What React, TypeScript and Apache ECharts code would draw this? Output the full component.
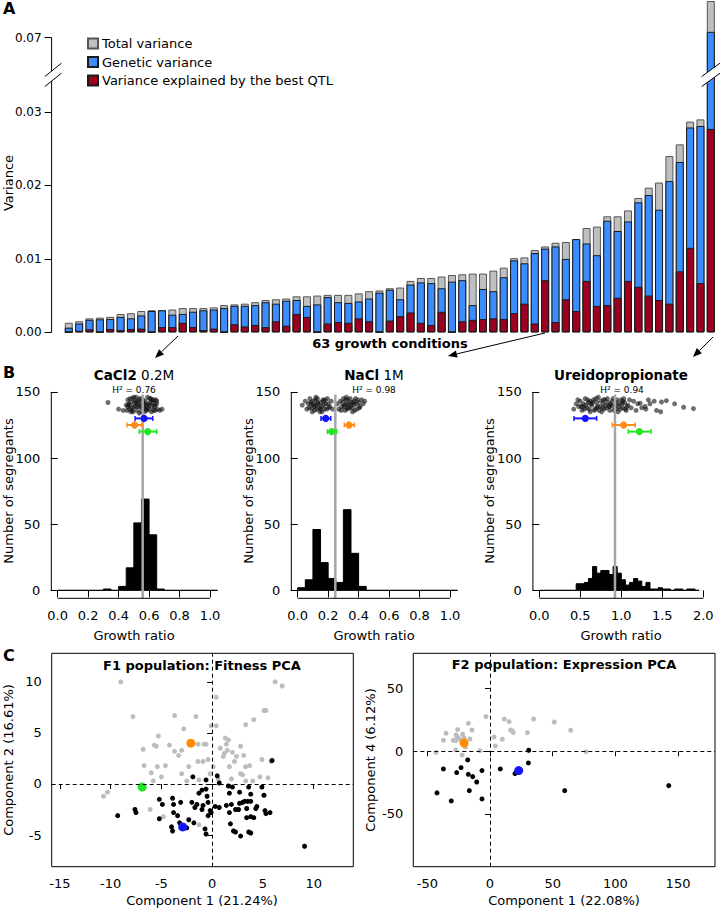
import React, { useEffect, useRef } from "react";
import * as echarts from "echarts";

const FONT = "DejaVu Sans, Liberation Sans, sans-serif";

// ---------------- Panel A: variance per growth condition ----------------
const conditionLabels = Array.from({ length: 63 }, (_, i) => `Condition ${i + 1}`);
const totalVariance = [
  0.0013, 0.0015, 0.0019, 0.002, 0.0021, 0.0025, 0.0026, 0.0029, 0.003, 0.003,
  0.0031, 0.0033, 0.0033, 0.0033, 0.0034, 0.0037, 0.0038, 0.0039, 0.0041, 0.0044,
  0.0045, 0.0046, 0.0049, 0.0049, 0.005, 0.0051, 0.0051, 0.0051, 0.0053, 0.0056,
  0.0057, 0.006, 0.0061, 0.007, 0.0074, 0.0074, 0.0076, 0.0078, 0.0079, 0.008,
  0.008, 0.0084, 0.0088, 0.0101, 0.0102, 0.0112, 0.0117, 0.0122, 0.0123, 0.0127,
  0.0142, 0.0144, 0.0158, 0.0158, 0.0166, 0.0183, 0.0197, 0.0204, 0.024, 0.0256,
  0.0287, 0.029, 0.075,
];
const geneticVariance = [
  0.00063, 0.0012, 0.0017, 0.00177, 0.0018, 0.0021, 0.0019, 0.0023, 0.0029, 0.003,
  0.0024, 0.0025, 0.0028, 0.003, 0.0031, 0.0033, 0.0036, 0.0036, 0.0037, 0.0041,
  0.0039, 0.0043, 0.0044, 0.0036, 0.0038, 0.0048, 0.0041, 0.004, 0.0042, 0.0046,
  0.0054, 0.0058, 0.0045, 0.0065, 0.0068, 0.0067, 0.006, 0.0069, 0.0071, 0.0037,
  0.0059, 0.0056, 0.0075, 0.0098, 0.0094, 0.0108, 0.0114, 0.0117, 0.01, 0.0127,
  0.0121, 0.0105, 0.0152, 0.0138, 0.0151, 0.0177, 0.0187, 0.0167, 0.0206, 0.0232,
  0.0279, 0.0281, 0.0708,
];
const qtlVariance = [
  0, 0.0002, 0.0004, 0, 0.00045, 0.0003, 0.00045, 0.0005, 0, 0.0007,
  0.0007, 0.0013, 0.0007, 0.0003, 0.0005, 0, 0.0011, 0.0008, 0.001, 0.0007,
  0.0015, 0.0009, 0.0025, 0.0021, 0, 0.0012, 0.0014, 0.0013, 0.0019, 0.0015,
  0, 0.0016, 0.0022, 0.0027, 0.0013, 0.001, 0.0028, 0, 0.0015, 0.0017,
  0.0018, 0.0019, 0.0018, 0.0026, 0.0039, 0.0012, 0.0071, 0.0014, 0.0045, 0.0029,
  0.007, 0.0036, 0.0037, 0.0047, 0.007, 0.0062, 0.005, 0.0044, 0.0039, 0.0083,
  0.0115, 0.0067, 0.0277,
];
const varianceTicks = [0, 0.01, 0.02, 0.03, 0.07];
const varianceBreak = [0.0345, 0.0655];

// ---------------- Panel B: histograms ----------------
const binWidth = 0.05;
const cacl2Counts = [0, 0, 0, 0, 0, 0, 1, 0, 3, 17, 51, 69, 42, 1, 0, 0, 0, 0, 0, 0, 0];
const naclCounts = [2, 8, 46, 21, 9, 6, 61, 28, 3, 0, 0, 0, 0, 0, 0, 0, 0, 0, 0, 0, 0];
const ureidoCounts = [
  0, 0, 0, 0, 0, 0, 0, 0, 0, 5, 5, 6, 9, 18, 13, 15, 15, 12, 18, 13,
  8, 4, 6, 9, 7, 3, 6, 1, 1, 2, 1, 1, 0, 1, 1, 0, 1, 1, 0,
];
const cacl2Median = 0.558;
const naclMedian = 0.247;
const ureidoMedian = 0.923;
const cacl2H2 = "0.76";
const naclH2 = "0.98";
const ureidoH2 = "0.94";
// [low, high, mean, y] for blue, orange, green parents
const errColors = ["#1414ff", "#ff8c1a", "#22e622"];
const cacl2Err = [[0.508, 0.624, 0.567, 130], [0.455, 0.555, 0.505, 125], [0.536, 0.65, 0.591, 120]];
const naclErr = [[0.153, 0.217, 0.184, 130], [0.306, 0.372, 0.337, 125], [0.195, 0.256, 0.223, 120]];
const ureidoErr = [[0.423, 0.699, 0.561, 130], [0.89, 1.17, 1.028, 125], [1.085, 1.362, 1.22, 120]];

const cacl2Dots = [
  [0.33, 142], [0.40, 137], [0.43, 136], [0.67, 136], [0.685, 137],
  [0.45, 140], [0.46, 144], [0.47, 137], [0.48, 142], [0.49, 145], [0.50, 139], [0.51, 143], [0.52, 136],
  [0.53, 141], [0.54, 145], [0.55, 138], [0.56, 143], [0.57, 135], [0.58, 140], [0.59, 146], [0.60, 137],
  [0.61, 142], [0.62, 139], [0.63, 144], [0.64, 136], [0.65, 141],
  [0.455, 136], [0.465, 141], [0.475, 145], [0.485, 138], [0.495, 135], [0.505, 142], [0.515, 146],
  [0.525, 139], [0.535, 134], [0.545, 142], [0.555, 145], [0.565, 138], [0.575, 143], [0.585, 136],
  [0.595, 141], [0.605, 145], [0.615, 135], [0.625, 142], [0.635, 139], [0.645, 144], [0.655, 137],
  [0.47, 140], [0.49, 136], [0.51, 139], [0.53, 144], [0.55, 135], [0.57, 141], [0.59, 138], [0.61, 145],
  [0.63, 136], [0.65, 143], [0.46, 139], [0.50, 146], [0.54, 139], [0.58, 137], [0.62, 144], [0.52, 142],
  [0.56, 140], [0.60, 140], [0.48, 135], [0.64, 140],
];
const naclDots = [
  [0.03, 140], [0.05, 143], [0.06, 137], [0.07, 141], [0.08, 145], [0.09, 138], [0.10, 143], [0.11, 136],
  [0.12, 140], [0.13, 145], [0.14, 138], [0.15, 142], [0.16, 135], [0.17, 140], [0.18, 144], [0.19, 137],
  [0.20, 141], [0.21, 139], [0.22, 143], [0.23, 137],
  [0.075, 138], [0.085, 142], [0.095, 135], [0.105, 140], [0.115, 144], [0.125, 137], [0.135, 141],
  [0.145, 135], [0.155, 139], [0.165, 144], [0.175, 137], [0.185, 141], [0.195, 145], [0.205, 138],
  [0.09, 141], [0.11, 139], [0.13, 142], [0.15, 137], [0.17, 143], [0.12, 146],
  [0.26, 141], [0.27, 137], [0.28, 143], [0.29, 139], [0.30, 145], [0.31, 136], [0.32, 141], [0.33, 144],
  [0.34, 138], [0.35, 142], [0.36, 135], [0.37, 140], [0.38, 145], [0.39, 137], [0.40, 142], [0.41, 139],
  [0.42, 144], [0.43, 141], [0.44, 143],
  [0.285, 136], [0.295, 142], [0.305, 139], [0.315, 144], [0.325, 137], [0.335, 141], [0.345, 145],
  [0.355, 138], [0.365, 142], [0.375, 136], [0.385, 141], [0.395, 144], [0.405, 138],
  [0.31, 140], [0.33, 138], [0.35, 140], [0.37, 143], [0.32, 146],
];
const ureidoDots = [
  [0.42, 137], [0.45, 141], [0.48, 139], [0.50, 143], [0.52, 136], [0.54, 141], [0.56, 145], [0.58, 138],
  [0.60, 142], [0.62, 135], [0.64, 140], [0.66, 144], [0.68, 137], [0.70, 142], [0.72, 146], [0.74, 139],
  [0.76, 135], [0.78, 141], [0.80, 144], [0.82, 138], [0.84, 142], [0.86, 136], [0.88, 140], [0.90, 145],
  [0.92, 138], [0.94, 142], [0.96, 135], [0.98, 141], [1.00, 144], [1.02, 138], [1.04, 142], [1.06, 136],
  [1.08, 140], [1.10, 144],
  [0.47, 144], [0.51, 139], [0.55, 137], [0.59, 144], [0.63, 141], [0.67, 136], [0.71, 139], [0.75, 143],
  [0.79, 137], [0.83, 145], [0.87, 141], [0.91, 136], [0.95, 144], [0.99, 137], [1.03, 145], [1.07, 139],
  [0.57, 140], [0.61, 137], [0.65, 142], [0.69, 145], [0.73, 136], [0.77, 138], [0.81, 140], [0.85, 139],
  [0.89, 143], [0.93, 140], [0.97, 139], [1.01, 141], [1.05, 137],
  [0.53, 139], [0.62, 143], [0.70, 138], [0.78, 144], [0.86, 139], [0.94, 137], [1.02, 143],
  [1.12, 138], [1.15, 143], [1.18, 136], [1.20, 141], [1.23, 141.5], [1.25, 138], [1.29, 139], [1.30, 137],
  [1.33, 144], [1.35, 141], [1.40, 143], [1.43, 136], [1.48, 135], [1.49, 142.4], [1.55, 143.4],
  [1.65, 141], [1.76, 138.4], [1.88, 137.4],
];

// ---------------- Panel C: PCA ----------------
const f1Gray = [
  [-9.0, 10.0], [-7.8, 6.6], [-3.7, 6.7], [-1.6, 6.6], [-2.8, 5.4], [-5.3, 4.7], [-5.7, 3.8], [-5.5, 3.7],
  [-6.8, 3.4], [-4.2, 3.8], [-3.7, 3.2], [-3.3, 2.8], [-6.7, 1.8], [-5.4, 1.7], [-4.6, 1.8], [-5.0, 0.7],
  [-6.0, 1.1], [-5.8, 0.3], [-3.0, 1.0], [-2.3, 1.7], [-1.4, 2.2], [-0.9, 2.2], [-0.8, 3.9], [-0.4, 2.4],
  [-0.1, 5.7], [0.4, 5.7], [0.4, 8.5], [-0.2, 1.0], [0.1, 1.7], [0.8, 3.5], [1.3, 4.5], [1.4, 3.9],
  [1.6, 4.3], [1.5, 3.3], [1.1, 2.7], [2.0, 3.1], [1.7, 1.7], [2.4, 2.7], [2.8, 3.7], [3.1, 2.8],
  [3.3, 1.7], [2.8, 1.0], [3.0, 0.9], [3.3, 5.8], [4.1, 6.3], [4.9, 2.4], [5.1, 7.2], [5.3, 7.2],
  [3.7, 1.8], [4.7, 0.7], [5.5, 0.6], [5.8, 2.2], [6.2, 10.0], [6.9, 9.6], [4.0, 0.3], [1.9, 0.5],
  [0.6, 0.5], [3.3, 0.3], [-10.7, -1.2], [-10.3, -0.8], [-6.1, -2.5], [-1.3, -4.0], [-1.3, 0.4],
  [-3.0, 3.3], [-0.6, 3.9], [-1.4, 3.9], [1.2, 3.0], [2.2, 2.2], [-2.5, 0.3], [-4.8, -3.2],
];
const f1Black = [
  [-9.3, -3.1], [-7.6, -2.5], [-7.5, -2.8], [-5.2, -1.5], [-4.9, -2.0], [-5.2, -3.4], [-3.9, -1.4],
  [-3.8, -2.0], [-3.1, -1.8], [-3.8, -2.8], [-3.4, -3.1], [-4.0, -4.2], [-3.9, -4.6], [-3.2, -3.8],
  [-2.5, -4.3], [-2.3, -3.5], [-2.0, -1.8], [-1.9, 0.7], [-1.7, -2.3], [-1.5, -2.0], [-1.8, -3.8],
  [-1.3, -0.9], [-1.0, -0.6], [-0.9, -2.1], [-1.0, -2.5], [-0.6, 0.4], [-0.6, -0.5], [-0.4, -1.8],
  [-0.2, -2.6], [-0.1, -2.8], [-0.4, -3.1], [-0.7, -4.4], [-0.6, -4.9], [0.3, -2.2], [0.5, 0.8],
  [0.7, 0.1], [0.7, -2.3], [1.6, -0.2], [1.7, -0.9], [1.4, -2.1], [1.7, -2.8], [1.9, -2.0],
  [1.8, -3.9], [2.1, -4.6], [2.3, -4.7], [2.7, -0.8], [2.7, -1.9], [2.3, -2.5], [2.6, -2.5],
  [3.4, -2.4], [3.0, -1.8], [3.2, -1.7], [3.5, -1.7], [3.8, -1.0], [3.8, -1.7], [3.6, -0.3],
  [3.4, -3.3], [3.8, -3.2], [4.1, -3.3], [4.4, -2.2], [4.3, -2.4], [3.6, -4.7], [3.8, -4.8],
  [2.8, -5.1], [4.9, -0.3], [5.1, -1.1], [5.2, -2.6], [5.3, -2.9], [5.7, -2.8], [5.9, 2.3],
  [9.1, -6.1], [2.0, -0.3], [-0.5, -1.2],
];
const f1Orange = [[-2.1, 4.0]];
const f1Green = [[-6.9, -0.3]];
const f1Blue = [[-2.9, -4.2]];

const f2Gray = [
  [-43.1, -0.8], [-37.2, 8.8], [-35.1, 14.4], [-29.3, 8.8], [-27.4, 8.5], [-25.8, 17.3], [-27.1, 13],
  [-24.5, 9.8], [-21.8, 13.6], [-17.3, 22.3], [-14.4, 17], [-16, 9.8], [-19.7, 3.5], [-22.3, -2.9],
  [-27.4, 1.1], [-8, 0.5], [-3.2, 27.7], [3.2, 11.4], [4.3, 4.3], [9.8, 9.6], [11.4, 25.8], [15.2, 23.7],
  [16.5, 17], [17.8, 16.2], [18.6, 14.9], [29.8, 14.9], [34.8, 25.8], [51.3, 23.4], [64.4, 16.8],
  [76.6, -0.3], [-25.8, 11.2], [-20.7, 10.6],
];
const f2Black = [
  [-17.8, -6.9], [-37.2, -14.1], [-26.6, -17], [-23.1, -13], [-17.3, -18.4], [-13.8, -20.2],
  [-10.6, -24.5], [-6.4, -15.4], [-16.5, -31.4], [-42.3, -33.2], [-30.9, -39.6], [-6.4, -38],
  [8.2, -14.1], [19.9, -17.8], [30.6, -9.3], [30.9, 0.8], [59.6, -31.4], [142.6, -27.4],
];
const f2Orange = [[-20.7, 6.6]];
const f2Blue = [[22.9, -15.4]];

// ---------------- helpers ----------------
function txt(text: string, x: number, y: number, o: any = {}) {
  return {
    type: "text",
    x,
    y,
    rotation: o.rotation || 0,
    silent: true,
    z: 100,
    style: {
      text,
      fill: "#000",
      fontSize: o.size || 13,
      fontFamily: FONT,
      fontWeight: o.bold ? "bold" : "normal",
      textAlign: o.align || "center",
      textVerticalAlign: "middle",
      rich: o.rich,
    },
  };
}

function arrow(x1: number, y1: number, x2: number, y2: number) {
  const ang = Math.atan2(y2 - y1, x2 - x1);
  const L = 9;
  const W = 3.6;
  const bx = x2 - L * Math.cos(ang);
  const by = y2 - L * Math.sin(ang);
  const px = -Math.sin(ang) * W;
  const py = Math.cos(ang) * W;
  return [
    { type: "line", silent: true, shape: { x1, y1, x2: bx, y2: by }, style: { stroke: "#000", lineWidth: 1 } },
    {
      type: "polygon",
      silent: true,
      shape: { points: [[x2, y2], [bx + px, by + py], [bx - px, by - py]] },
      style: { fill: "#000" },
    },
  ];
}

function histData(counts: number[]) {
  return counts.map((c, i) => [i * binWidth, (i + 1) * binWidth, c]);
}

const histRender = (params: any, api: any) => {
  const p0 = api.coord([api.value(0), api.value(2)]);
  const p1 = api.coord([api.value(1), 0]);
  return {
    type: "rect",
    shape: { x: p0[0], y: p0[1], width: p1[0] - p0[0], height: p1[1] - p0[1] },
    style: { fill: "#000", stroke: "#000", lineWidth: 1 },
  };
};

const errRender = (params: any, api: any) => {
  const y = api.value(3);
  const lo = api.coord([api.value(0), y]);
  const hi = api.coord([api.value(1), y]);
  const mid = api.coord([api.value(2), y]);
  const c = errColors[params.dataIndex];
  const cap = 2.5;
  return {
    type: "group",
    children: [
      { type: "line", shape: { x1: lo[0], y1: lo[1], x2: hi[0], y2: hi[1] }, style: { stroke: c, lineWidth: 2 } },
      { type: "line", shape: { x1: lo[0], y1: lo[1] - cap, x2: lo[0], y2: lo[1] + cap }, style: { stroke: c, lineWidth: 1.5 } },
      { type: "line", shape: { x1: hi[0], y1: hi[1] - cap, x2: hi[0], y2: hi[1] + cap }, style: { stroke: c, lineWidth: 1.5 } },
      { type: "circle", shape: { cx: mid[0], cy: mid[1], r: 3.6 }, style: { fill: c } },
    ],
  };
};

const axisText = { fontSize: 13, fontFamily: FONT, color: "#000" };

function histPanel(idx: number, counts: number[], dots: number[][], err: number[][], median: number, xMax: number, xTicks: number[]) {
  const xMin = -0.04 * (counts.length * binWidth);
  return {
    series: [
      {
        type: "custom",
        xAxisIndex: idx,
        yAxisIndex: idx,
        data: histData(counts),
        renderItem: histRender,
        encode: { x: [0, 1], y: 2 },
        silent: true,
        z: 2,
      },
      {
        type: "scatter",
        xAxisIndex: idx,
        yAxisIndex: idx,
        data: dots,
        symbolSize: 5,
        itemStyle: { color: "rgba(15,15,15,0.6)", opacity: 1 },
        silent: true,
        z: 3,
      },
      {
        type: "line",
        xAxisIndex: idx,
        yAxisIndex: idx,
        data: [[median, -6], [median, 148]],
        symbol: "none",
        lineStyle: { color: "#a6a6a6", width: 2.5 },
        silent: true,
        clip: false,
        z: 4,
      },
      {
        type: "custom",
        xAxisIndex: idx,
        yAxisIndex: idx,
        data: err,
        renderItem: errRender,
        encode: { x: [0, 1, 2], y: 3 },
        silent: true,
        z: 5,
      },
      {
        type: "line",
        xAxisIndex: idx,
        yAxisIndex: idx,
        data: [[xMin, 0], [xMin, 150]],
        symbol: "none",
        lineStyle: { color: "#000", width: 1 },
        silent: true,
        clip: false,
        z: 6,
      },
      {
        type: "line",
        xAxisIndex: idx,
        yAxisIndex: idx,
        data: [[xTicks[0], -6], [xTicks[xTicks.length - 1], -6]],
        symbol: "none",
        lineStyle: { color: "#000", width: 1 },
        silent: true,
        clip: false,
        z: 6,
      },
    ],
    xAxis: {
      type: "value",
      gridIndex: idx,
      min: xMin,
      max: xMax,
      axisLine: { show: false },
      splitLine: { show: false },
      axisTick: { show: true, length: 7, customValues: xTicks, lineStyle: { color: "#000" } },
      axisLabel: { ...axisText, margin: 11, customValues: xTicks, formatter: (v: number) => v.toFixed(1) },
    },
    yAxis: {
      type: "value",
      gridIndex: idx,
      min: -6,
      max: 156,
      axisLine: { show: false },
      splitLine: { show: false },
      axisTick: { show: true, length: 7, customValues: [0, 50, 100, 150], lineStyle: { color: "#000" } },
      axisLabel: { ...axisText, margin: 11, customValues: [0, 50, 100, 150] },
    },
  };
}

function pcaAxes(idx: number, xMin: number, xMax: number, xTicks: number[], yMin: number, yMax: number, yTicks: number[]) {
  return {
    xAxis: {
      type: "value",
      gridIndex: idx,
      min: xMin,
      max: xMax,
      axisLine: { show: false },
      splitLine: { show: false },
      axisTick: { show: true, length: 5, customValues: xTicks, lineStyle: { color: "#000" } },
      axisLabel: { ...axisText, margin: 10, customValues: xTicks },
    },
    yAxis: {
      type: "value",
      gridIndex: idx,
      min: yMin,
      max: yMax,
      axisLine: { show: false },
      splitLine: { show: false },
      axisTick: { show: true, length: 5, customValues: yTicks, lineStyle: { color: "#000" } },
      axisLabel: { ...axisText, margin: 10, customValues: yTicks },
    },
  };
}

const GRID_A_LEFT = 63.6;
const AXIS_A_OFFSET = 12;

function baseGraphics() {
  const g: any[] = [
    txt("A", 3, 8, { bold: true, size: 16, align: "left" }),
    txt("B", 3, 372, { bold: true, size: 16, align: "left" }),
    txt("C", 3, 655, { bold: true, size: 16, align: "left" }),
    txt("Variance", 8, 183, { rotation: Math.PI / 2 }),
    txt("63 growth conditions", 390, 343, { bold: true }),
    txt("{b|CaCl2} 0.2M", 134, 375, { size: 13.5, rich: { b: { fontWeight: "bold", fontSize: 13.5, fontFamily: FONT } } }),
    txt("{b|NaCl} 1M", 374, 375, { size: 13.5, rich: { b: { fontWeight: "bold", fontSize: 13.5, fontFamily: FONT } } }),
    txt("Ureidopropionate", 621, 375, { size: 13.5, bold: true }),
    txt(`H² = ${cacl2H2}`, 134, 390, { size: 9 }),
    txt(`H² = ${naclH2}`, 374, 390, { size: 9 }),
    txt(`H² = ${ureidoH2}`, 622, 390, { size: 9 }),
    txt("Number of segregants", 8, 491, { rotation: Math.PI / 2 }),
    txt("Number of segregants", 248, 491, { rotation: Math.PI / 2 }),
    txt("Number of segregants", 489, 491, { rotation: Math.PI / 2 }),
    txt("Growth ratio", 134, 635),
    txt("Growth ratio", 374, 635),
    txt("Growth ratio", 621, 635),
    txt("F1 population: Fitness PCA", 202, 665, { bold: true }),
    txt("F2 population: Expression PCA", 564, 664, { bold: true }),
    txt("Component 2 (16.61%)", 8, 760, { rotation: Math.PI / 2 }),
    txt("Component 4 (6.12%)", 370, 760, { rotation: Math.PI / 2 }),
    txt("Component 1 (21.24%)", 202, 900),
    txt("Component 1 (22.08%)", 564, 900),
    ...arrow(178, 336, 155, 358),
    ...arrow(545, 333, 448, 356),
    ...arrow(713, 337, 693, 357),
  ];
  return g;
}

function buildOption() {
  const b1 = histPanel(1, cacl2Counts, cacl2Dots, cacl2Err, cacl2Median, 1.092, [0, 0.2, 0.4, 0.6, 0.8, 1.0]);
  const b2 = histPanel(2, naclCounts, naclDots, naclErr, naclMedian, 1.092, [0, 0.2, 0.4, 0.6, 0.8, 1.0]);
  const b3 = histPanel(3, ureidoCounts, ureidoDots, ureidoErr, ureidoMedian, 2.028, [0, 0.5, 1.0, 1.5, 2.0]);
  const c1 = pcaAxes(4, -15.8, 13.9, [-15, -10, -5, 0, 5, 10], -8.1, 12.8, [-5, 0, 5, 10]);
  const c2 = pcaAxes(5, -61.2, 179.5, [-50, 0, 50, 100, 150], -92.1, 78.2, [-50, 0, 50]);

  const dashed = {
    silent: true,
    symbol: ["none", "none"],
    label: { show: false },
    lineStyle: { type: [4, 3], color: "#000", width: 1 },
    data: [{ xAxis: 0 }, { yAxis: 0 }],
  };

  const barBase = {
    type: "bar",
    xAxisIndex: 0,
    yAxisIndex: 0,
    barWidth: 8,
    barGap: "-100%",
    silent: true,
  };

  const pt = (idx: number, data: number[][], size: number, color: string, z: number, extra: any = {}) => ({
    type: "scatter",
    xAxisIndex: idx,
    yAxisIndex: idx,
    data,
    symbolSize: size,
    itemStyle: { color, opacity: 1 },
    silent: true,
    z,
    ...extra,
  });

  return {
    animation: false,
    backgroundColor: "#fff",
    textStyle: { fontFamily: FONT },
    grid: [
      { left: GRID_A_LEFT, right: 4, top: 1, bottom: 908 - 332.3 },
      { left: 51.3, width: 172.7, top: 384, height: 214.3 },
      { left: 291.3, width: 172.7, top: 384, height: 214.3 },
      { left: 532.9, width: 172.7, top: 384, height: 214.3 },
      { left: 51.7, width: 301.6, top: 653.3, height: 213.4, show: true, borderColor: "#000", borderWidth: 1 },
      { left: 413.3, width: 301.7, top: 653.3, height: 213.4, show: true, borderColor: "#000", borderWidth: 1 },
    ],
    legend: {
      orient: "vertical",
      left: 82,
      top: 32,
      itemWidth: 10,
      itemHeight: 10,
      itemGap: 5.5,
      icon: "rect",
      textStyle: { fontSize: 13, fontFamily: FONT, color: "#000", padding: [0, 0, 0, -1] },
      data: ["Total variance", "Genetic variance", "Variance explained by the best QTL"],
      selectedMode: false,
    },
    xAxis: [
      { type: "category", gridIndex: 0, data: conditionLabels, show: false },
      b1.xAxis,
      b2.xAxis,
      b3.xAxis,
      c1.xAxis,
      c2.xAxis,
    ],
    yAxis: [
      {
        type: "value",
        gridIndex: 0,
        min: 0,
        max: 0.075,
        interval: 0.01,
        offset: AXIS_A_OFFSET,
        breaks: [{ start: varianceBreak[0], end: varianceBreak[1], gap: "2.5%" }],
        breakArea: { show: false },
        axisLine: { show: false },
        splitLine: { show: false },
        axisTick: { show: true, length: 7, customValues: varianceTicks, lineStyle: { color: "#000" } },
        axisLabel: {
          fontSize: 12,
          fontFamily: FONT,
          color: "#000",
          margin: 10,
          customValues: varianceTicks,
          formatter: (v: number) => v.toFixed(2),
        },
      },
      b1.yAxis,
      b2.yAxis,
      b3.yAxis,
      c1.yAxis,
      c2.yAxis,
    ],
    series: [
      { ...barBase, name: "Total variance", data: totalVariance, itemStyle: { color: "#bfbfbf", borderColor: "#555", borderWidth: 1 } },
      { ...barBase, name: "Genetic variance", data: geneticVariance, itemStyle: { color: "#3a8cff", borderColor: "#1a1a1a", borderWidth: 1 } },
      { ...barBase, name: "Variance explained by the best QTL", data: qtlVariance, itemStyle: { color: "#9b0020", borderColor: "#1a1a1a", borderWidth: 1 } },
      ...b1.series,
      ...b2.series,
      ...b3.series,
      pt(4, f1Gray, 5, "#bdbdbd", 2, { markLine: dashed }),
      pt(4, f1Black, 5, "#000", 3),
      pt(4, f1Orange, 9, "#ff8c00", 4),
      pt(4, f1Green, 9, "#1ee61e", 4),
      pt(4, f1Blue, 9, "#1414ff", 4),
      pt(5, f2Gray, 5, "#bdbdbd", 2, { markLine: dashed }),
      pt(5, f2Black, 5, "#000", 3),
      pt(5, f2Orange, 9, "#ff8c00", 4),
      pt(5, f2Blue, 9, "#1414ff", 4),
    ],
    graphic: baseGraphics(),
  };
}

function breakGraphics(chart: any) {
  const num = (v: any, d: number) => (typeof v === "number" && isFinite(v) ? v : d);
  const y0 = num(chart.convertToPixel({ yAxisIndex: 0 }, 0), 332.3);
  const y07 = num(chart.convertToPixel({ yAxisIndex: 0 }, 0.07), 38.3);
  const yb1 = num(chart.convertToPixel({ yAxisIndex: 0 }, varianceBreak[0]), 75);
  const yb2 = num(chart.convertToPixel({ yAxisIndex: 0 }, varianceBreak[1]), 65);
  const ym = (yb1 + yb2) / 2;
  const axisX = GRID_A_LEFT - AXIS_A_OFFSET;
  const lastX = num(chart.convertToPixel({ xAxisIndex: 0 }, totalVariance.length - 1), 710.8);
  const slash = (cx: number, dx: number) => {
    const dy = 6.7;
    const off = 5;
    return [
      {
        type: "polygon",
        silent: true,
        z: 90,
        shape: {
          points: [
            [cx - dx, ym + off + dy],
            [cx + dx, ym + off - dy],
            [cx + dx, ym - off - dy],
            [cx - dx, ym - off + dy],
          ],
        },
        style: { fill: "#fff" },
      },
      { type: "line", silent: true, z: 91, shape: { x1: cx - dx, y1: ym + off + dy, x2: cx + dx, y2: ym + off - dy }, style: { stroke: "#000", lineWidth: 1 } },
      { type: "line", silent: true, z: 91, shape: { x1: cx - dx, y1: ym - off + dy, x2: cx + dx, y2: ym - off - dy }, style: { stroke: "#000", lineWidth: 1 } },
    ];
  };
  return [
    { type: "line", silent: true, z: 80, shape: { x1: axisX, y1: y0, x2: axisX, y2: y07 }, style: { stroke: "#000", lineWidth: 1 } },
    ...slash(axisX + 1.5, 8.4),
    ...slash(lastX, 9.2),
  ];
}

export default function App() {
  const ref = useRef<HTMLDivElement>(null);
  useEffect(() => {
    document.body.style.margin = "0";
    const chart = echarts.init(ref.current!, null, { renderer: "svg", width: 720, height: 908 });
    chart.setOption(buildOption() as any);
    try {
      chart.setOption({ graphic: [...baseGraphics(), ...breakGraphics(chart)] } as any);
    } catch (e) {
      // ignore
    }
    return () => chart.dispose();
  }, []);
  return <div ref={ref} style={{ width: 720, height: 908, position: "absolute", left: 0, top: 0 }} />;
}
